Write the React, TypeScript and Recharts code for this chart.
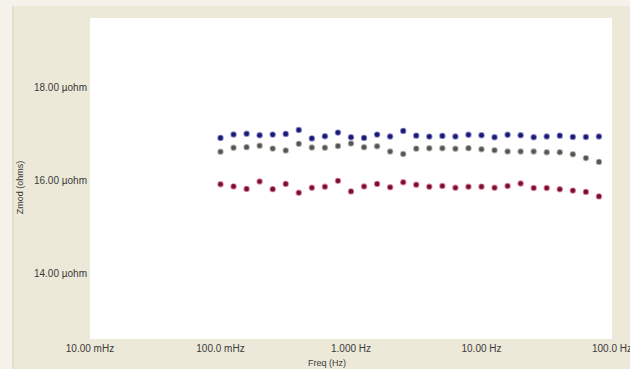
import React from "react";
import { ScatterChart, Scatter, XAxis, YAxis, CartesianGrid, Label } from "recharts";

// Sweep frequencies (Hz), 10 points per decade
const freqHz = [
  0.1, 0.1259, 0.1585, 0.1995, 0.2512, 0.3162, 0.3981, 0.5012, 0.631, 0.7943,
  1.0, 1.259, 1.585, 1.995, 2.512, 3.162, 3.981, 5.012, 6.31, 7.943,
  10.0, 12.59, 15.85, 19.95, 25.12, 31.62, 39.81, 50.12, 63.1, 79.43,
];

// |Z| in µohm for the three channels
const zmodBlue = [
  16.915, 16.99, 17.005, 16.973, 16.986, 17.001, 17.085, 16.904, 16.951, 17.029,
  16.93, 16.915, 16.986, 16.947, 17.066, 16.964, 16.943, 16.958, 16.947, 16.982,
  16.973, 16.93, 16.982, 16.973, 16.93, 16.947, 16.964, 16.936, 16.936, 16.947,
];
const zmodGray = [
  16.616, 16.703, 16.716, 16.746, 16.685, 16.644, 16.787, 16.709, 16.703, 16.742,
  16.796, 16.714, 16.735, 16.623, 16.569, 16.683, 16.692, 16.692, 16.681, 16.694,
  16.67, 16.649, 16.623, 16.623, 16.623, 16.605, 16.605, 16.562, 16.48, 16.398,
];
const zmodRed = [
  15.916, 15.87, 15.816, 15.974, 15.81, 15.924, 15.732, 15.84, 15.862, 15.989,
  15.762, 15.866, 15.924, 15.851, 15.959, 15.905, 15.862, 15.877, 15.84, 15.862,
  15.864, 15.84, 15.877, 15.931, 15.834, 15.834, 15.808, 15.779, 15.751, 15.654,
];

const xTicks = [0.01, 0.1, 1, 10, 100];
const xTickLabels = ["10.00 mHz", "100.0 mHz", "1.000 Hz", "10.00 Hz", "100.0 Hz"];
const yTicks = [14, 16, 18];
const yTickLabels = ["14.00 µohm", "16.00 µohm", "18.00 µohm"];

const toPoints = (ys: number[]) => freqHz.map((f, i) => ({ f, z: ys[i] }));

const dot = (core: string, halo: string) => (props: any) => {
  const { cx, cy } = props;
  if (cx == null || cy == null) return <g />;
  return (
    <g>
      <circle cx={cx} cy={cy} r={3.2} fill={halo} />
      <circle cx={cx} cy={cy} r={2.3} fill={core} />
    </g>
  );
};

const FONT = "'Liberation Sans', Arial, sans-serif";
const TEXT = "#3a3a3a";

export default function App() {
  return (
    <div
      style={{
        position: "absolute",
        left: 0,
        top: 0,
        width: 630,
        height: 369,
        background: "#F4F2EA",
        fontFamily: FONT,
        overflow: "hidden",
      }}
    >
      {/* window panel behind the chart */}
      <div
        style={{
          position: "absolute",
          left: 12,
          top: 6,
          right: 0,
          bottom: 0,
          background: "#ECE9D8",
          borderLeft: "2px solid #E2DFCC",
        }}
      />
      <div style={{ position: "absolute", left: 0, top: 0 }}>
        <ScatterChart
          width={630}
          height={369}
          margin={{ top: 18, right: 18, left: 0, bottom: 0 }}
        >
          <CartesianGrid fill="#FFFFFF" horizontal={false} vertical={false} />
          <XAxis
            dataKey="f"
            type="number"
            scale="log"
            domain={[0.01, 100]}
            ticks={xTicks}
            tickFormatter={(v: number) => xTickLabels[xTicks.indexOf(v)] ?? ""}
            axisLine={false}
            tickLine={false}
            tickSize={0}
            tickMargin={6}
            height={30}
            allowDataOverflow
            interval={0}
            tick={{ fontSize: 10, fill: TEXT, fontFamily: FONT }}
          >
            <Label
              content={({ viewBox }: any) => (
                <text
                  x={viewBox.x + viewBox.width / 2 - 24}
                  y={viewBox.y + 27}
                  textAnchor="middle"
                  fontSize={9}
                  fill={TEXT}
                  fontFamily={FONT}
                >
                  Freq (Hz)
                </text>
              )}
            />
          </XAxis>
          <YAxis
            dataKey="z"
            type="number"
            domain={[12.58, 19.5]}
            ticks={yTicks}
            tickFormatter={(v: number) => yTickLabels[yTicks.indexOf(v)] ?? ""}
            axisLine={false}
            tickLine={false}
            tickSize={0}
            tickMargin={3}
            width={90}
            allowDataOverflow
            interval={0}
            tick={{ fontSize: 10, fill: TEXT, fontFamily: FONT }}
          >
            <Label
              content={({ viewBox }: any) => {
                const cx = 20;
                const cy = viewBox.y + viewBox.height / 2 + 9;
                return (
                  <text
                    x={cx}
                    y={cy}
                    transform={`rotate(-90 ${cx} ${cy})`}
                    textAnchor="middle"
                    dominantBaseline="central"
                    fontSize={9}
                    fill={TEXT}
                    fontFamily={FONT}
                  >
                    Zmod (ohms)
                  </text>
                );
              }}
            />
          </YAxis>
          <Scatter
            data={toPoints(zmodBlue)}
            shape={dot("#1a1a74", "#8a8ac6")}
            isAnimationActive={false}
          />
          <Scatter
            data={toPoints(zmodGray)}
            shape={dot("#555555", "#b2b2a8")}
            isAnimationActive={false}
          />
          <Scatter
            data={toPoints(zmodRed)}
            shape={dot("#781030", "#de8aa0")}
            isAnimationActive={false}
          />
        </ScatterChart>
      </div>
    </div>
  );
}
